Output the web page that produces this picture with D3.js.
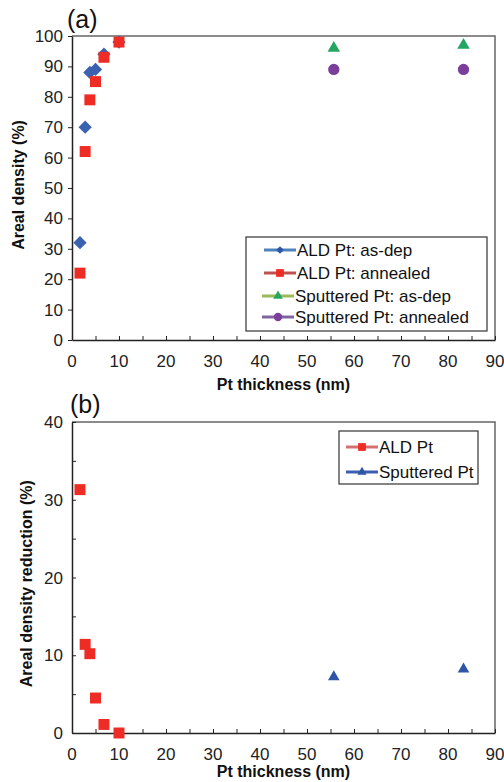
<!DOCTYPE html>
<html>
<head>
<meta charset="utf-8">
<script src="https://cdn.jsdelivr.net/npm/d3@7"></script>
<style>
body { margin: 0; background: #fff; }
svg { display: block; font-family: "Liberation Sans", Arial, sans-serif; }
</style>
</head>
<body>
<svg id="chart" width="504" height="782"></svg>
<script>
// values
var aldThickness = [1.7, 2.8, 3.8, 5.0, 6.8, 10];
var aldAsDep = [32, 70, 88, 89, 94, 98];
var aldAnnealed = [22, 62, 79, 85, 93, 98];
var sputThickness = [55.7, 83.3];
var sputAsDep = [96, 97];
var sputAnnealed = [89, 89];
var aldReduction = [31.3, 11.4, 10.2, 4.5, 1.1, 0];
var sputReduction = [7.2, 8.2];
var xTicks = [0, 10, 20, 30, 40, 50, 60, 70, 80, 90];
var xMinor = d3.range(0, 91, 5);
var yTicksA = [0, 10, 20, 30, 40, 50, 60, 70, 80, 90, 100];
var yTicksB = [0, 10, 20, 30, 40];
var yMinorB = d3.range(0, 41, 5);

var svg = d3.select('#chart');

var x = d3.scaleLinear().domain([0, 90]).range([72, 495]);
var yA = d3.scaleLinear().domain([0, 100]).range([340, 36]);
var yB = d3.scaleLinear().domain([0, 40]).range([733, 422]);

var sym = {
	diamond: d3.symbol().type(d3.symbolSquare).size(88),
	square: d3.symbol().type(d3.symbolSquare).size(120),
	triangle: d3.symbol().type(d3.symbolTriangle).size(68),
	triangleB: d3.symbol().type(d3.symbolTriangle).size(58),
	circle: d3.symbol().type(d3.symbolCircle).size(100)
};

function drawPanel(y, yTicks, yMinor, outY) {
	var g = svg.append('g');
	// frame (top + right)
	g.append('path')
		.attr('d', 'M' + x(0) + ',' + y.range()[1] + 'H' + x(90) + 'V' + y.range()[0])
		.attr('fill', 'none').attr('stroke', '#666').attr('stroke-width', 1.5);

	var ax = g.append('g').attr('transform', 'translate(0,' + y.range()[0] + ')')
		.call(d3.axisBottom(x).tickValues(xMinor).tickSize(-4).tickSizeOuter(0).tickFormat(''));
	ax.select('.domain').attr('stroke', '#222').attr('stroke-width', 1.5);
	ax.selectAll('.tick line').attr('stroke', '#222');
	g.selectAll('.xlab').data(xTicks).enter().append('text')
		.attr('x', function(d){ return x(d); })
		.attr('y', y.range()[0] + 27)
		.attr('text-anchor', 'middle')
		.attr('font-size', '17px')
		.attr('fill', '#222')
		.text(function(d){ return d; });

	var ay = g.append('g').attr('transform', 'translate(' + x(0) + ',0)')
		.call(d3.axisLeft(y).tickValues(yMinor).tickSize(outY ? 4 : -4).tickSizeOuter(0).tickFormat(''));
	ay.select('.domain').attr('stroke', '#222').attr('stroke-width', 1.5);
	ay.selectAll('.tick line').attr('stroke', '#222');
	g.selectAll('.ylab').data(yTicks).enter().append('text')
		.attr('x', x(0) - 9)
		.attr('y', function(d){ return y(d) + 6; })
		.attr('text-anchor', 'end')
		.attr('font-size', '17px')
		.attr('fill', '#222')
		.text(function(d){ return d; });
	return g;
}

function points(g, xs, ys, y, shape, color, rot) {
	g.selectAll(null).data(xs).enter().append('path')
		.attr('d', sym[shape])
		.attr('transform', function(d, i){
			return 'translate(' + x(d) + ',' + y(ys[i]) + ')' + (rot ? ' rotate(45)' : '');
		})
		.attr('fill', color);
}

function legend(g, x0, y0, w, h, items) {
	g.append('rect').attr('x', x0).attr('y', y0).attr('width', w).attr('height', h)
		.attr('fill', '#fff').attr('stroke', '#333').attr('stroke-width', 1.2);
	items.forEach(function(it) {
		var ly = it.y;
		g.append('line').attr('x1', it.lx).attr('x2', it.lx + 32).attr('y1', ly).attr('y2', ly)
			.attr('stroke', it.line).attr('stroke-width', 3);
		g.append('path').attr('d', d3.symbol().type(it.shape).size(it.size)())
			.attr('transform', 'translate(' + (it.lx + 16) + ',' + ly + ')' + (it.rot ? ' rotate(45)' : ''))
			.attr('fill', it.color);
		g.append('text').attr('x', it.lx + 33).attr('y', ly + 6)
			.attr('font-size', '17px').attr('fill', '#111').text(it.label);
	});
}

// panel (a)
var ga = drawPanel(yA, yTicksA, yTicksA, true);
points(ga, aldThickness, aldAsDep, yA, 'diamond', '#3a62b0', true);
points(ga, aldThickness, aldAnnealed, yA, 'square', '#ee2b24', false);
points(ga, sputThickness, sputAsDep, yA, 'triangle', '#24a562', false);
points(ga, sputThickness, sputAnnealed, yA, 'circle', '#7b3f9b', false);

legend(ga, 246, 237, 241, 94, [
	{ y: 250, lx: 264, line: '#4f81bd', shape: d3.symbolSquare, size: 30, rot: true, color: '#2e56a6', label: 'ALD Pt: as-dep' },
	{ y: 273, lx: 264, line: '#c0504d', shape: d3.symbolSquare, size: 60, color: '#ee2b24', label: 'ALD Pt: annealed' },
	{ y: 296, lx: 262, line: '#9bbb59', shape: d3.symbolTriangle, size: 40, color: '#24a562', label: 'Sputtered Pt: as-dep' },
	{ y: 317, lx: 262, line: '#8064a2', shape: d3.symbolCircle, size: 55, color: '#7b3f9b', label: 'Sputtered Pt: annealed' }
]);

ga.append('text').attr('x', 67).attr('y', 28).attr('font-size', '25px').attr('fill', '#111').text('(a)');
ga.append('text').attr('x', x(45)).attr('y', 390).attr('text-anchor', 'middle')
	.attr('font-size', '16px').attr('font-weight', 'bold').attr('fill', '#111').text('Pt thickness (nm)');
ga.append('text').attr('transform', 'translate(24,' + yA(51) + ') rotate(-90)').attr('text-anchor', 'middle')
	.attr('font-size', '16px').attr('font-weight', 'bold').attr('fill', '#111').text('Areal density (%)');

// panel (b)
var gb = drawPanel(yB, yTicksB, yMinorB, false);
points(gb, aldThickness, aldReduction, yB, 'square', '#ee2b24', false);
points(gb, sputThickness, sputReduction, yB, 'triangleB', '#2e55a5', false);

legend(gb, 339, 431, 139, 53, [
	{ y: 447, lx: 346, line: '#d4706d', shape: d3.symbolSquare, size: 60, color: '#ee2b24', label: 'ALD Pt' },
	{ y: 472, lx: 346, line: '#3a5fb0', shape: d3.symbolTriangle, size: 36, color: '#2e55a5', label: 'Sputtered Pt' }
]);

gb.append('text').attr('x', 70).attr('y', 413).attr('font-size', '25px').attr('fill', '#111').text('(b)');
gb.append('text').attr('x', x(45)).attr('y', 777).attr('text-anchor', 'middle')
	.attr('font-size', '16px').attr('font-weight', 'bold').attr('fill', '#111').text('Pt thickness (nm)');
gb.append('text').attr('transform', 'translate(32,' + yB(19.2) + ') rotate(-90)').attr('text-anchor', 'middle')
	.attr('font-size', '16px').attr('font-weight', 'bold').attr('fill', '#111').text('Areal density reduction (%)');
</script>
</body>
</html>
